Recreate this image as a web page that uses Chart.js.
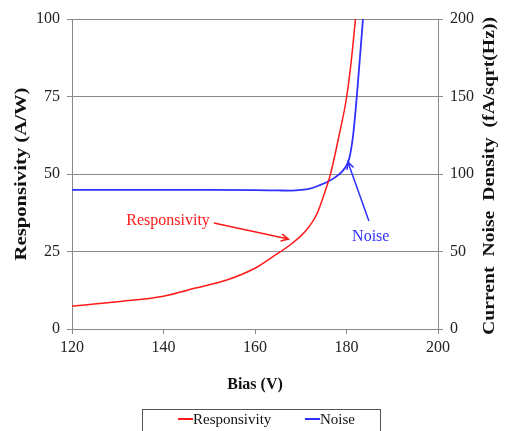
<!DOCTYPE html>
<html>
<head>
<meta charset="utf-8">
<script src="https://cdn.jsdelivr.net/npm/chart.js@4.4.1/dist/chart.umd.min.js"></script>
<style>
  html, body { margin: 0; padding: 0; background: #fff; }
  #wrap { width: 505px; height: 431px; position: relative; }
</style>
</head>
<body>
<div id="wrap"><canvas id="chart" width="505" height="431"></canvas></div>
<script>
// Responsivity (A/W) vs bias (V), left axis
const respBias = [120, 130, 140, 147, 154, 160, 164, 168, 171, 173.5, 175, 176.5, 178.4, 180.05, 181.1, 181.96];
const respValues = [7.4, 8.8, 10.6, 13.2, 15.9, 19.6, 23.4, 27.5, 31.5, 37, 43, 50, 62.6, 75, 87.3, 100];

// Current noise density (fA/sqrt(Hz)) vs bias (V), right axis
const noiseBias = [120, 130, 140, 150, 160, 165, 168, 170, 172, 174, 176, 178.4, 179.8, 180.6, 181.45, 182.25, 183.6];
const noiseValues = [89.7, 89.7, 89.7, 89.7, 89.6, 89.4, 89.3, 89.7, 90.6, 92.6, 95.2, 99.8, 104.5, 110, 125, 150, 200];

const xTicks = [120, 140, 160, 180, 200];
const leftTicks = [0, 25, 50, 75, 100];
const rightTicks = [0, 50, 100, 150, 200];

const RED = "#ff1a1a";
const BLUE = "#3030ff";
const SERIF = "'Liberation Serif', 'Times New Roman', serif";

const toXY = (xs, ys) => xs.map((x, i) => ({ x, y: ys[i] }));

// annotation labels + arrows, in data units of the left axis
const notes = [
  { text: "Responsivity", color: RED, at: [141, 34.8], from: [151, 34.2], to: [167.3, 29.0] },
  { text: "Noise", color: BLUE, at: [185.3, 29.7], from: [184.9, 34.8], to: [180.3, 53.9] },
];

// vertical axis titles (drawn reading bottom-to-top on both sides)
const yTitles = [
  { text: "Responsivity (A/W)", x: 22, y: 174, len: 173 },
  { text: "Current  Noise  Density  (fA/sqrt(Hz))", x: 490, y: 176, len: 318 },
];

function arrow(ctx, x1, y1, x2, y2, color) {
  const a = Math.atan2(y2 - y1, x2 - x1);
  const h = 8;
  ctx.strokeStyle = color;
  ctx.lineWidth = 1.5;
  ctx.beginPath();
  ctx.moveTo(x1, y1);
  ctx.lineTo(x2, y2);
  ctx.moveTo(x2 - h * Math.cos(a - 0.45), y2 - h * Math.sin(a - 0.45));
  ctx.lineTo(x2, y2);
  ctx.lineTo(x2 - h * Math.cos(a + 0.45), y2 - h * Math.sin(a + 0.45));
  ctx.stroke();
}

const extras = {
  id: "extras",
  afterDraw(chart) {
    const { ctx } = chart;
    const xs = chart.scales.x, ys = chart.scales.y;
    ctx.save();
    notes.forEach((n) => {
      ctx.font = "16px " + SERIF;
      ctx.fillStyle = n.color;
      ctx.textAlign = "center";
      ctx.textBaseline = "middle";
      ctx.fillText(n.text, xs.getPixelForValue(n.at[0]), ys.getPixelForValue(n.at[1]));
      arrow(ctx,
        xs.getPixelForValue(n.from[0]), ys.getPixelForValue(n.from[1]),
        xs.getPixelForValue(n.to[0]), ys.getPixelForValue(n.to[1]), n.color);
    });

    yTitles.forEach((t) => {
      ctx.save();
      ctx.font = "bold 17px " + SERIF;
      ctx.fillStyle = "#111";
      ctx.textAlign = "center";
      ctx.textBaseline = "middle";
      const w = ctx.measureText(t.text).width;
      ctx.translate(t.x, t.y);
      ctx.rotate(-Math.PI / 2);
      ctx.scale(t.len / w, 1);
      ctx.fillText(t.text, 0, 0);
      ctx.restore();
    });

    // boxed legend under the axis title
    ctx.strokeStyle = "#555";
    ctx.lineWidth = 1;
    ctx.strokeRect(142.5, 409.5, 238, 30);
    ctx.font = "15px " + SERIF;
    ctx.textAlign = "left";
    ctx.textBaseline = "middle";
    const items = [[178, chart.data.datasets[0]], [305, chart.data.datasets[1]]];
    items.forEach(([x, ds]) => {
      ctx.strokeStyle = ds.borderColor;
      ctx.lineWidth = 2;
      ctx.beginPath();
      ctx.moveTo(x, 419);
      ctx.lineTo(x + 15, 419);
      ctx.stroke();
      ctx.fillStyle = "#111";
      ctx.fillText(ds.label, x + 15, 420);
    });
    ctx.restore();
  },
};

const tickFont = { family: SERIF, size: 16 };
const titleFont = { family: SERIF, size: 16, weight: "bold" };

new Chart(document.getElementById("chart"), {
  type: "line",
  data: {
    datasets: [
      {
        label: "Responsivity",
        data: toXY(respBias, respValues),
        borderColor: RED,
        borderWidth: 1.5,
        pointRadius: 0,
        cubicInterpolationMode: "monotone",
        yAxisID: "y",
      },
      {
        label: "Noise",
        data: toXY(noiseBias, noiseValues),
        borderColor: BLUE,
        borderWidth: 1.8,
        pointRadius: 0,
        cubicInterpolationMode: "monotone",
        yAxisID: "y2",
      },
    ],
  },
  options: {
    responsive: false,
    animation: false,
    layout: { padding: { top: 19, bottom: 37, left: 0, right: 0 } },
    plugins: { legend: { display: false }, tooltip: { enabled: false } },
    scales: {
      x: {
        type: "linear",
        min: 120,
        max: 200,
        afterBuildTicks: (s) => { s.ticks = xTicks.map((v) => ({ value: v })); },
        afterFit: (s) => { s.height = 65; },
        ticks: { font: tickFont, color: "#222", padding: 4, maxRotation: 0 },
        grid: { drawOnChartArea: false, color: "#888", tickLength: 5 },
        border: { color: "#888" },
        title: { display: true, text: "Bias (V)", font: titleFont, color: "#111", padding: 0 },
      },
      y: {
        position: "left",
        min: 0,
        max: 100,
        afterBuildTicks: (s) => { s.ticks = leftTicks.map((v) => ({ value: v })); },
        afterFit: (s) => { s.width = 72; },
        ticks: { font: tickFont, color: "#222", padding: 7 },
        grid: { color: "#888", tickLength: 5 },
        border: { color: "#888" },
      },
      y2: {
        position: "right",
        min: 0,
        max: 200,
        afterBuildTicks: (s) => { s.ticks = rightTicks.map((v) => ({ value: v })); },
        afterFit: (s) => { s.width = 67; },
        ticks: { font: tickFont, color: "#222", padding: 7 },
        grid: { drawOnChartArea: false, color: "#888", tickLength: 5 },
        border: { color: "#888" },
      },
    },
  },
  plugins: [extras],
});
</script>
</body>
</html>
